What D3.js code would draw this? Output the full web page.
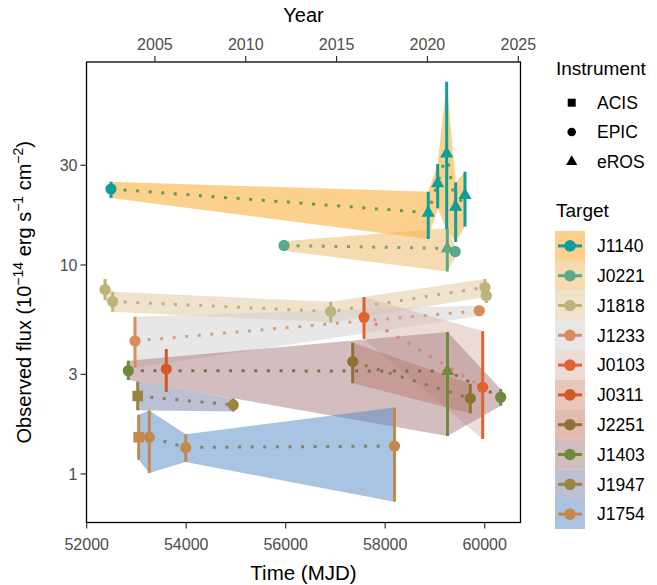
<!DOCTYPE html>
<html>
<head>
<meta charset="utf-8">
<script src="https://cdn.jsdelivr.net/npm/d3@7"></script>
<style>
  body { margin: 0; background: #fff; }
  text { font-family: "Liberation Sans", Arial, sans-serif; }
</style>
</head>
<body>
<div id="chart"></div>
<script>
// targets and their colours
var targets = ["J1140", "J0221", "J1818", "J1233", "J0103", "J0311", "J2251", "J1403", "J1947", "J1754"];
var point_colors = ["#0e9f9b", "#5ba88b", "#bcb47a", "#da8d5c", "#e2632f", "#d05a28", "#8e7134", "#6e8b3d", "#9a843f", "#c4894a"];
var band_colors = ["#f9a11b", "#efb761", "#e1c79b", "#cfcfd1", "#d7b9b1", "#cf8f75", "#c57b5f", "#a77b7d", "#7b81a5", "#5387c5"];
var line_colors = ["#669858", "#84a06c", "#c2b080", "#d6a07c", "#d8886e", "#c07050", "#887654", "#79714e", "#827c74", "#86806e"];
var instruments = ["ACIS", "EPIC", "eROS"];

// observations (one entry per measurement)
var obs_target = ["J1140", "J1140", "J1140", "J1140", "J1140", "J1140",
                  "J0221", "J0221", "J0221",
                  "J1818", "J1818", "J1818", "J1818", "J1818",
                  "J1233", "J1233",
                  "J0103", "J0103",
                  "J0311",
                  "J2251", "J2251",
                  "J1403", "J1403", "J1403",
                  "J1947", "J1947",
                  "J1754", "J1754", "J1754", "J1754"];
var obs_instrument = ["EPIC", "eROS", "eROS", "eROS", "eROS", "eROS",
                      "EPIC", "eROS", "EPIC",
                      "EPIC", "EPIC", "EPIC", "EPIC", "EPIC",
                      "EPIC", "EPIC",
                      "EPIC", "EPIC",
                      "EPIC",
                      "EPIC", "EPIC",
                      "EPIC", "eROS", "EPIC",
                      "ACIS", "EPIC",
                      "ACIS", "EPIC", "EPIC", "EPIC"];
var obs_mjd = [52488, 58866, 59055, 59236, 59417, 59604,
               55966, 59248, 59409,
               52368, 52523, 56905, 60006, 60032,
               52971, 59891,
               57574, 59960,
               53600,
               57347, 59711,
               52836, 59252, 60322,
               53025, 54947,
               53045, 53258, 53990, 58187];
var obs_flux = [23.1, 17.8, 24.6, 34.2, 19.0, 21.6,
                12.4, 12.0, 11.6,
                7.63, 6.69, 5.99, 7.82, 7.13,
                4.33, 6.04,
                5.62, 2.60,
                3.18,
                3.45, 2.30,
                3.12, 3.11, 2.33,
                2.36, 2.14,
                1.50, 1.50, 1.34, 1.36];
var obs_lo = [20.9, 13.3, 18.7, 14.8, 12.9, 15.3,
              11.7, 9.3, 10.9,
              6.80, 5.98, 5.30, 7.03, 6.58,
              3.22, 5.70,
              4.43, 1.47,
              2.47,
              2.72, 1.95,
              2.82, 1.52, 2.12,
              2.02, 1.99,
              1.17, 1.01, 1.14, 0.737];
var obs_hi = [25.0, 22.4, 30.4, 75.4, 24.8, 27.9,
              13.0, 15.0, 12.3,
              8.57, 7.45, 6.67, 8.57, 7.79,
              5.66, 6.40,
              7.03, 4.83,
              3.96,
              4.25, 2.70,
              3.48, 4.78, 2.55,
              2.77, 2.30,
              1.92, 2.01, 1.55, 2.08];

var x_ticks = [52000, 54000, 56000, 58000, 60000];
var y_ticks = [1, 3, 10, 30];
var year_ticks = [2005, 2010, 2015, 2020, 2025];

var width = 657, height = 585;
var panel = {left: 86.5, right: 520.5, top: 62, bottom: 522.5};

var svg = d3.select("#chart").append("svg")
    .attr("width", width)
    .attr("height", height);

var x = d3.scaleLinear().domain([51996, 60720]).range([panel.left, panel.right]);
var y = d3.scaleLog().domain([0.586, 93.6]).range([panel.bottom, panel.top]);

function yearToMjd(yr){
    return (Date.UTC(yr, 0, 1) - Date.UTC(1858, 10, 17)) / 86400000;
}

var data = obs_mjd.map(function(m, i){
    return {
        target: obs_target[i],
        instrument: obs_instrument[i],
        mjd: m,
        flux: obs_flux[i],
        lo: obs_lo[i],
        hi: obs_hi[i]
    };
});

var plot = svg.append("g");
plot.append("defs").append("clipPath").attr("id", "clip")
    .append("rect")
    .attr("x", panel.left).attr("y", panel.top)
    .attr("width", panel.right - panel.left).attr("height", panel.bottom - panel.top);

var inner = plot.append("g").attr("clip-path", "url(#clip)");

// bands
var area = d3.area()
    .x(function(d){ return x(d.mjd); })
    .y0(function(d){ return y(d.lo); })
    .y1(function(d){ return y(d.hi); });

var line = d3.line()
    .x(function(d){ return x(d.mjd); })
    .y(function(d){ return y(d.flux); });

var groups = targets.map(function(t){
    return data.filter(function(d){ return d.target == t; })
        .sort(function(a, b){ return a.mjd - b.mjd; });
});

groups.forEach(function(g, i){
    if(g.length < 2) return;
    inner.append("path")
        .attr("d", area(g))
        .attr("fill", band_colors[i])
        .attr("fill-opacity", 0.5);
});

// dotted lines
groups.forEach(function(g, i){
    if(g.length < 2) return;
    inner.append("path")
        .attr("d", line(g))
        .attr("fill", "none")
        .attr("stroke", line_colors[i])
        .attr("stroke-width", 3)
        .attr("stroke-dasharray", "3,9.6");
});

function symbolPath(inst){
    if(inst == "ACIS") return "M-5.3,-5.3H5.3V5.3H-5.3Z";
    if(inst == "eROS") return "M0,-7.5L6.6,4L-6.6,4Z";
    return d3.symbol().type(d3.symbolCircle).size(Math.PI * 5.6 * 5.6)();
}

// error bars and points
groups.forEach(function(g, i){
    g.forEach(function(d){
        inner.append("line")
            .attr("x1", x(d.mjd)).attr("x2", x(d.mjd))
            .attr("y1", y(d.lo)).attr("y2", y(d.hi))
            .attr("stroke", point_colors[i])
            .attr("stroke-width", 3);
        inner.append("path")
            .attr("d", symbolPath(d.instrument))
            .attr("transform", "translate(" + x(d.mjd) + "," + y(d.flux) + ")")
            .attr("fill", point_colors[i]);
    });
});

// panel border
plot.append("rect")
    .attr("x", panel.left).attr("y", panel.top)
    .attr("width", panel.right - panel.left).attr("height", panel.bottom - panel.top)
    .attr("fill", "none")
    .attr("stroke", "#000")
    .attr("stroke-width", 1.3);

// axes
var tick_color = "#333333", label_color = "#4d4d4d";

x_ticks.forEach(function(t){
    plot.append("line")
        .attr("x1", x(t)).attr("x2", x(t))
        .attr("y1", panel.bottom).attr("y2", panel.bottom + 6)
        .attr("stroke", tick_color).attr("stroke-width", 1.2);
    plot.append("text")
        .attr("x", x(t)).attr("y", panel.bottom + 27)
        .attr("text-anchor", "middle")
        .attr("font-size", 16)
        .attr("fill", label_color)
        .text(t);
});

year_ticks.forEach(function(t){
    var px = x(yearToMjd(t));
    plot.append("line")
        .attr("x1", px).attr("x2", px)
        .attr("y1", panel.top).attr("y2", panel.top - 6)
        .attr("stroke", tick_color).attr("stroke-width", 1.2);
    plot.append("text")
        .attr("x", px).attr("y", panel.top - 12)
        .attr("text-anchor", "middle")
        .attr("font-size", 16)
        .attr("fill", label_color)
        .text(t);
});

y_ticks.forEach(function(t){
    plot.append("line")
        .attr("x1", panel.left - 6).attr("x2", panel.left)
        .attr("y1", y(t)).attr("y2", y(t))
        .attr("stroke", tick_color).attr("stroke-width", 1.2);
    plot.append("text")
        .attr("x", panel.left - 9).attr("y", y(t))
        .attr("dy", "0.36em")
        .attr("text-anchor", "end")
        .attr("font-size", 16)
        .attr("fill", label_color)
        .text(t);
});

// axis titles
svg.append("text")
    .attr("x", (panel.left + panel.right) / 2).attr("y", 580)
    .attr("text-anchor", "middle")
    .attr("font-size", 20.5)
    .text("Time (MJD)");

svg.append("text")
    .attr("x", (panel.left + panel.right) / 2).attr("y", 22)
    .attr("text-anchor", "middle")
    .attr("font-size", 20)
    .text("Year");

var ytitle = svg.append("text")
    .attr("transform", "translate(31," + ((panel.top + panel.bottom) / 2) + ") rotate(-90)")
    .attr("text-anchor", "middle")
    .attr("font-size", 20);
var ypieces = [["Observed flux (10", false], ["\u221214", true], [" erg s", false], ["\u22121", true], [" cm", false], ["\u22122", true], [")", false]];
ypieces.forEach(function(p){
    ytitle.append("tspan")
        .attr("font-size", p[1] ? 14 : 20)
        .attr("baseline-shift", p[1] ? "super" : "baseline")
        .text(p[0]);
});

// legend: instrument
var leg = svg.append("g");
leg.append("text")
    .attr("x", 556).attr("y", 75)
    .attr("font-size", 19)
    .text("Instrument");

instruments.forEach(function(inst, i){
    var cy = 102.7 + i * 29.3;
    var s = inst == "ACIS" ? "M-4,-4H4V4H-4Z" : (inst == "eROS" ? "M0,-6L5.6,3.6L-5.6,3.6Z" : d3.symbol().type(d3.symbolCircle).size(Math.PI * 4.3 * 4.3)());
    leg.append("path")
        .attr("d", s)
        .attr("transform", "translate(571.7," + cy + ")")
        .attr("fill", "#000");
    leg.append("text")
        .attr("x", 597).attr("y", cy)
        .attr("dy", "0.36em")
        .attr("font-size", 17.5)
        .text(inst);
});

// legend: target
leg.append("text")
    .attr("x", 556).attr("y", 217)
    .attr("font-size", 19)
    .text("Target");

targets.forEach(function(t, i){
    var top = 231 + i * 29.8;
    var cy = top + 14.9;
    leg.append("rect")
        .attr("x", 555).attr("y", top)
        .attr("width", 30).attr("height", 29.8)
        .attr("fill", band_colors[i])
        .attr("fill-opacity", 0.5);
    leg.append("line")
        .attr("x1", 558).attr("x2", 582)
        .attr("y1", cy).attr("y2", cy)
        .attr("stroke", point_colors[i])
        .attr("stroke-width", 3);
    leg.append("circle")
        .attr("cx", 570).attr("cy", cy).attr("r", 5.8)
        .attr("fill", point_colors[i]);
    leg.append("text")
        .attr("x", 597).attr("y", cy)
        .attr("dy", "0.36em")
        .attr("font-size", 17.5)
        .text(t);
});
</script>
</body>
</html>
